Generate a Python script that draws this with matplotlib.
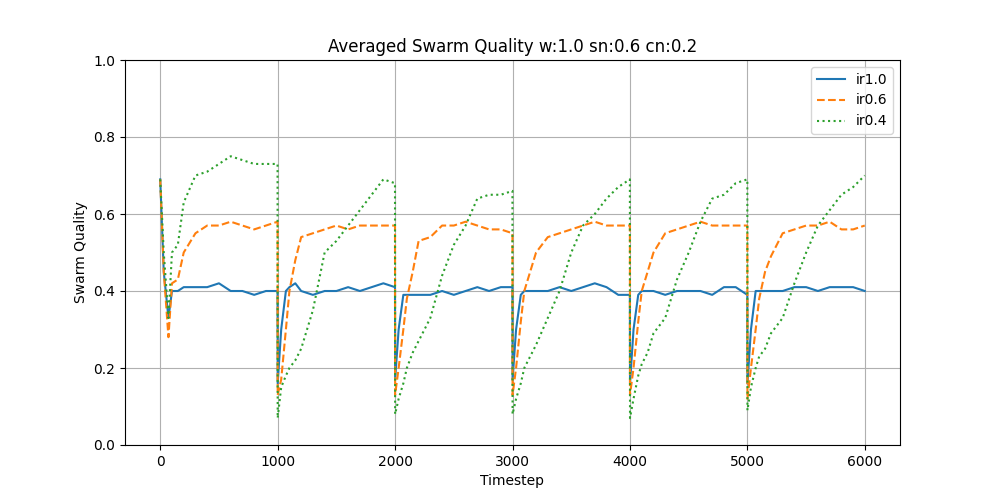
import numpy as np
import matplotlib
matplotlib.use("Agg")
import matplotlib.pyplot as plt

# sample offsets inside each 1000-step cycle
offsets = [0, 30, 70, 100, 150, 200, 300, 400, 500, 600, 700, 800, 900, 999]
cycle_starts = [0, 1000, 2000, 3000, 4000, 5000]

ir10 = [
    [0.69, 0.45, 0.33, 0.40, 0.40, 0.41, 0.41, 0.41, 0.42, 0.40, 0.40, 0.39, 0.40, 0.40],
    [0.16, 0.30, 0.40, 0.41, 0.42, 0.40, 0.39, 0.40, 0.40, 0.41, 0.40, 0.41, 0.42, 0.41],
    [0.17, 0.30, 0.39, 0.39, 0.39, 0.39, 0.39, 0.40, 0.39, 0.40, 0.41, 0.40, 0.41, 0.41],
    [0.17, 0.30, 0.39, 0.40, 0.40, 0.40, 0.40, 0.41, 0.40, 0.41, 0.42, 0.41, 0.39, 0.39],
    [0.16, 0.30, 0.39, 0.40, 0.40, 0.40, 0.39, 0.40, 0.40, 0.40, 0.39, 0.41, 0.41, 0.39],
    [0.16, 0.30, 0.40, 0.40, 0.40, 0.40, 0.40, 0.41, 0.41, 0.40, 0.41, 0.41, 0.41, 0.40],
]
ir06 = [
    [0.69, 0.45, 0.28, 0.42, 0.43, 0.50, 0.55, 0.57, 0.57, 0.58, 0.57, 0.56, 0.57, 0.58],
    [0.13, 0.17, 0.30, 0.40, 0.48, 0.54, 0.55, 0.56, 0.57, 0.56, 0.57, 0.57, 0.57, 0.57],
    [0.13, 0.20, 0.30, 0.38, 0.45, 0.53, 0.54, 0.57, 0.57, 0.58, 0.57, 0.56, 0.56, 0.55],
    [0.13, 0.20, 0.32, 0.40, 0.45, 0.50, 0.54, 0.55, 0.56, 0.57, 0.58, 0.57, 0.57, 0.57],
    [0.13, 0.20, 0.32, 0.40, 0.45, 0.50, 0.55, 0.56, 0.57, 0.58, 0.57, 0.57, 0.57, 0.57],
    [0.12, 0.20, 0.30, 0.38, 0.45, 0.49, 0.55, 0.56, 0.57, 0.57, 0.58, 0.56, 0.56, 0.57],
]
ir04 = [
    [0.69, 0.50, 0.33, 0.50, 0.52, 0.63, 0.70, 0.71, 0.73, 0.75, 0.74, 0.73, 0.73, 0.73],
    [0.07, 0.15, 0.18, 0.20, 0.22, 0.25, 0.35, 0.50, 0.53, 0.57, 0.61, 0.65, 0.69, 0.68],
    [0.08, 0.12, 0.16, 0.20, 0.24, 0.27, 0.33, 0.44, 0.52, 0.57, 0.64, 0.65, 0.65, 0.66],
    [0.08, 0.12, 0.16, 0.20, 0.23, 0.26, 0.33, 0.40, 0.50, 0.57, 0.60, 0.64, 0.67, 0.69],
    [0.07, 0.12, 0.18, 0.21, 0.24, 0.29, 0.33, 0.43, 0.50, 0.58, 0.64, 0.65, 0.68, 0.69],
    [0.09, 0.15, 0.20, 0.23, 0.25, 0.29, 0.33, 0.42, 0.50, 0.57, 0.61, 0.65, 0.67, 0.70],
]

t = np.concatenate([[s + o for o in offsets] for s in cycle_starts])

fig, ax = plt.subplots(figsize=(10, 5), dpi=100)
ax.plot(t, np.concatenate(ir10), "-", label="ir1.0")
ax.plot(t, np.concatenate(ir06), "--", label="ir0.6")
ax.plot(t, np.concatenate(ir04), ":", label="ir0.4")
ax.set_ylim(0, 1.0)
ax.set_xlabel("Timestep")
ax.set_ylabel("Swarm Quality")
ax.set_title("Averaged Swarm Quality w:1.0 sn:0.6 cn:0.2")
ax.grid(True)
ax.legend(loc="upper right")
fig.savefig("out.png")
